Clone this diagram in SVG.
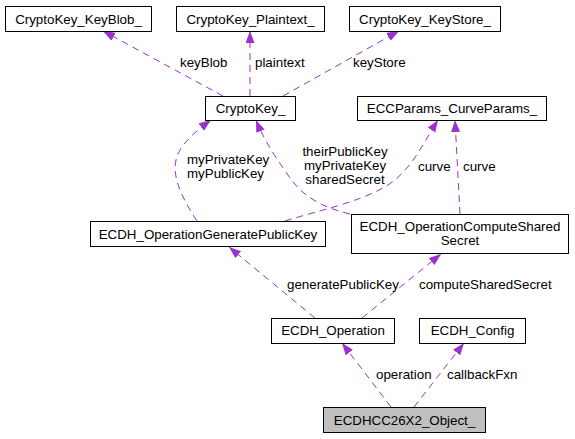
<svg xmlns="http://www.w3.org/2000/svg" width="575" height="439" viewBox="0 0 575 439">
<defs>
<marker id="ah" markerUnits="userSpaceOnUse" markerWidth="13" markerHeight="10" refX="12" refY="4.5" orient="auto">
<path d="M0,0 L12,4.5 L0,9 z" fill="#9a32cd"/>
</marker>
<style>
.box rect{fill:#fff;stroke:#000;stroke-width:1}
.box.hl rect{fill:#bfbfbf}
text{font-family:"Liberation Sans",Arial,sans-serif;font-size:13.33px;fill:#000}
.box text{text-anchor:middle}
.edge path{fill:none;stroke:#9a32cd;stroke-width:1;stroke-dasharray:7,5;marker-end:url(#ah)}
.mid{text-anchor:middle}
</style>
</defs>
<rect width="575" height="439" fill="#fff"/>
<g id="connectors" class="edge">
<path d="M223,96 L103,31"/>
<path d="M250,96 L250,31"/>
<path d="M283,96 L399,31"/>
<path d="M197,221 C180,195 168,170 180,150 C187,139 196,131 211,120"/>
<path d="M350,214 C320,207 302,195 290,178 C280,163 266,145 256,120"/>
<path d="M285,221 C320,210 370,200 395,180 C415,163 425,140 438,120"/>
<path d="M460,214 L455,120"/>
<path d="M315,318 L229,247"/>
<path d="M362,318 L441,254"/>
<path d="M391,407 L342,343"/>
<path d="M414,407 L464,343"/>
</g>
<g id="edge-labels">
<text x="180" y="67">keyBlob</text>
<text x="255" y="67">plaintext</text>
<text x="353" y="67">keyStore</text>
<text x="187" y="163.5">myPrivateKey</text>
<text x="187" y="177.5">myPublicKey</text>
<text class="mid" x="345" y="156">theirPublicKey</text>
<text class="mid" x="345" y="170">myPrivateKey</text>
<text class="mid" x="345" y="184">sharedSecret</text>
<text x="418" y="170.5">curve</text>
<text x="463" y="170.5">curve</text>
<text x="287" y="289">generatePublicKey</text>
<text x="419" y="289">computeSharedSecret</text>
<text x="376" y="379">operation</text>
<text x="447" y="379">callbackFxn</text>
</g>
<g id="CryptoKey_KeyBlob_" class="box"><rect x="5.5" y="6.5" width="146" height="25"/><text x="78.5" y="23.5">CryptoKey_KeyBlob_</text></g>
<g id="CryptoKey_Plaintext_" class="box"><rect x="176.5" y="6.5" width="148" height="25"/><text x="250.5" y="23.5">CryptoKey_Plaintext_</text></g>
<g id="CryptoKey_KeyStore_" class="box"><rect x="349.5" y="6.5" width="151" height="25"/><text x="425" y="23.5">CryptoKey_KeyStore_</text></g>
<g id="CryptoKey_" class="box"><rect x="205.5" y="96.5" width="90" height="24"/><text x="250.5" y="113">CryptoKey_</text></g>
<g id="ECCParams_CurveParams_" class="box"><rect x="357.5" y="96.5" width="189" height="24"/><text x="452" y="113">ECCParams_CurveParams_</text></g>
<g id="ECDH_OperationGeneratePublicKey" class="box"><rect x="90.5" y="221.5" width="235" height="25"/><text x="208" y="238.5">ECDH_OperationGeneratePublicKey</text></g>
<g id="ECDH_OperationComputeSharedSecret" class="box"><rect x="351.5" y="214.5" width="217" height="39"/><text x="460" y="230.5">ECDH_OperationComputeShared</text><text x="460" y="244.5">Secret</text></g>
<g id="ECDH_Operation" class="box"><rect x="271.5" y="318.5" width="123" height="25"/><text x="333" y="335">ECDH_Operation</text></g>
<g id="ECDH_Config" class="box"><rect x="419.5" y="318.5" width="106" height="25"/><text x="472.5" y="335">ECDH_Config</text></g>
<g id="ECDHCC26X2_Object_" class="box hl"><rect x="323.5" y="407.5" width="162" height="25"/><text x="404.5" y="424.5">ECDHCC26X2_Object_</text></g>
</svg>
